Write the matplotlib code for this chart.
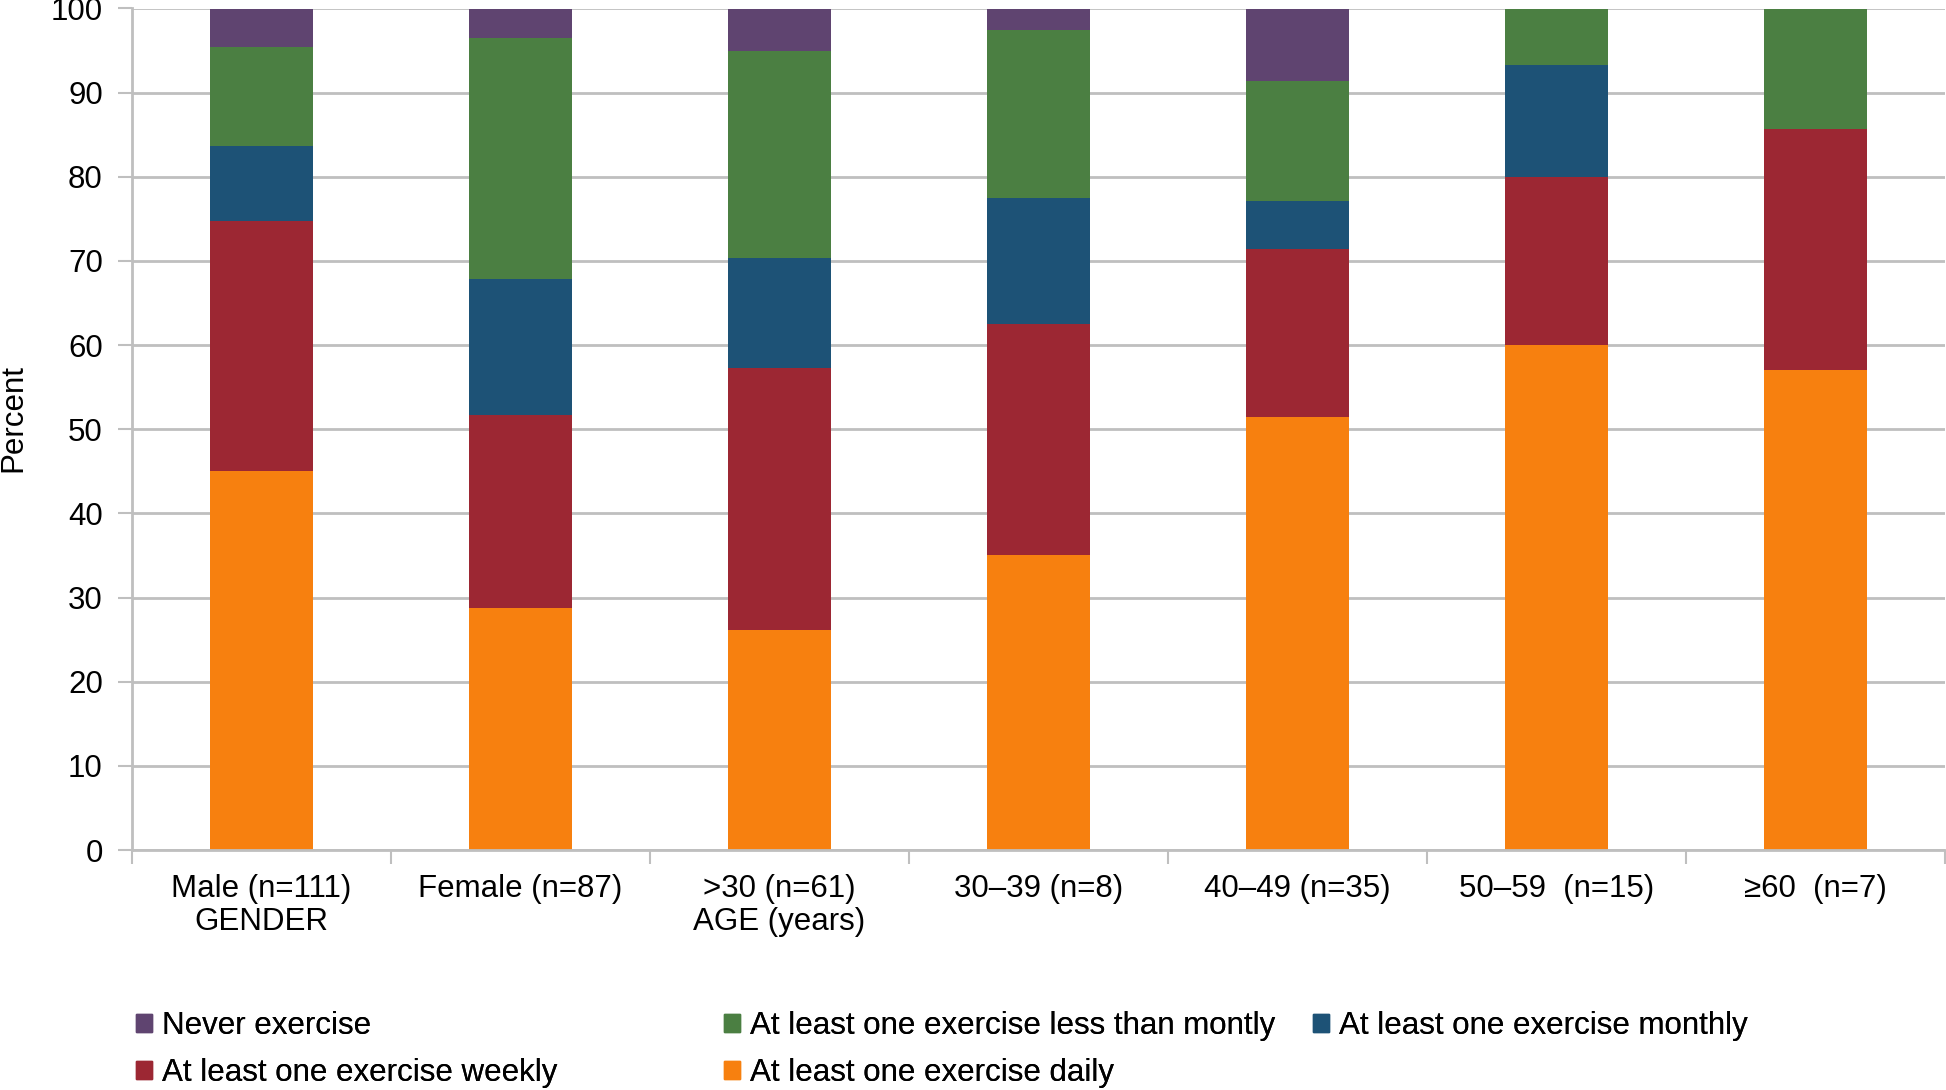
import numpy as np
import matplotlib.pyplot as plt
from matplotlib.patches import Patch

plt.rcParams['font.family'] = ['Liberation Sans', 'DejaVu Sans']

# Kategorien und Anteile in Prozent
kategorien = ["Male (n=111)\nGENDER", "Female (n=87)", ">30 (n=61)\nAGE (years)",
              "30–39 (n=8)", "40–49 (n=35)", "50–59  (n=15)", "≥60  (n=7)"]

taeglich = [45.0, 28.7, 26.2, 35.0, 51.4, 60.0, 57.1]
woechentlich = [29.7, 23.0, 31.1, 27.5, 20.0, 20.0, 28.6]
monatlich = [9.0, 16.1, 13.1, 15.0, 5.7, 13.3, 0.0]
seltener = [11.7, 28.7, 24.6, 20.0, 14.3, 6.7, 14.3]
nie = [4.5, 3.4, 4.9, 2.5, 8.6, 0.0, 0.0]

serien = [
    ("At least one exercise daily", taeglich, "#F7800F"),
    ("At least one exercise weekly", woechentlich, "#9C2733"),
    ("At least one exercise monthly", monatlich, "#1D5276"),
    ("At least one exercise less than montly", seltener, "#4B7F42"),
    ("Never exercise", nie, "#5F4470"),
]

GRAU = "#BFBFBF"
FS = 22.5

fig = plt.figure(figsize=(19.46, 10.90), dpi=100)
ax = fig.add_axes([132 / 1946, 1 - 850 / 1090, 1 - 132 / 1946 - 0.0005, (850 - 8.5) / 1090])

x = np.arange(len(kategorien))
unten = np.zeros(len(kategorien))
farben = {}
for name, werte, farbe in serien:
    ax.bar(x, werte, width=0.4, bottom=unten, color=farbe, zorder=2)
    unten += np.array(werte)
    farben[name] = farbe

ax.set_xlim(-0.5, len(kategorien) - 0.5)
ax.set_ylim(0, 100)
ax.set_yticks(np.arange(0, 101, 10))
ax.yaxis.grid(True, color=GRAU, linewidth=2, zorder=0)
ax.set_axisbelow(True)

ax.set_xticks(x)
ax.set_xticklabels(kategorien, fontsize=FS, linespacing=1.15)
ax.set_xticks(np.arange(-0.5, len(kategorien)), minor=True)
ax.tick_params(axis="x", which="major", length=0, pad=17)
ax.tick_params(axis="x", which="minor", length=10, width=1.5, color=GRAU)
ax.tick_params(axis="y", length=10, width=1.5, color=GRAU, labelsize=FS, pad=11)

for s in ["top", "right"]:
    ax.spines[s].set_visible(False)
for s in ["left", "bottom"]:
    ax.spines[s].set_color(GRAU)
    ax.spines[s].set_linewidth(2)

fig.text(13 / 1946, 1 - 418 / 1090, "Percent", rotation=90, fontsize=FS,
         ha="center", va="center")

# Legende: Einträge einzeln platzieren
legende_pos = [
    ("Never exercise", 136, 1026),
    ("At least one exercise less than montly", 724, 1026),
    ("At least one exercise monthly", 1313, 1026),
    ("At least one exercise weekly", 136, 1073),
    ("At least one exercise daily", 724, 1073),
]
for name, px, py in legende_pos:
    leg = fig.legend(handles=[Patch(color=farben[name])], labels=[name],
                     loc="center left", bbox_to_anchor=(px / 1946, 1 - py / 1090),
                     frameon=False, fontsize=FS, handlelength=0.52, handleheight=0.52,
                     handletextpad=0.3, borderpad=0, borderaxespad=0)
    fig.add_artist(leg)

fig.savefig("out.png", dpi=100)
